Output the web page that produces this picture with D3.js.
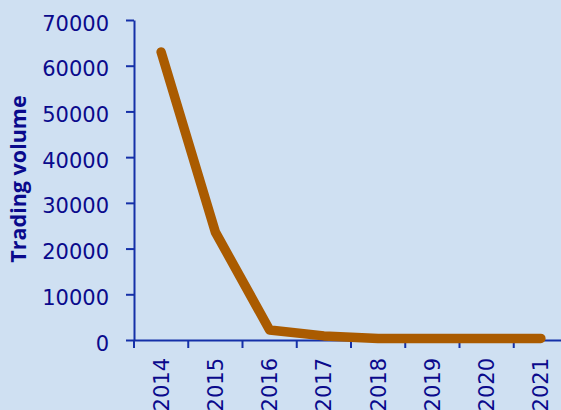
<!DOCTYPE html>
<html>
<head>
<meta charset="utf-8">
<script src="https://cdn.jsdelivr.net/npm/d3@7"></script>
<style>
  html, body { margin: 0; padding: 0; background: #cfe0f2; }
  svg { display: block; }
</style>
</head>
<body>
<svg id="chart" width="561" height="410"></svg>
<script>
// Yearly trading volume
const years = ["2014", "2015", "2016", "2017", "2018", "2019", "2020", "2021"];
const volumes = [63000, 23600, 2200, 900, 350, 350, 350, 350];
const yTicks = [0, 10000, 20000, 30000, 40000, 50000, 60000, 70000];
const yTitle = "Trading volume";

const width = 561, height = 410;
const axisColor = "#1530a8";
const textColor = "#0a0a8c";
const lineColor = "#aa5b00";

const svg = d3.select("#chart");
svg.append("rect").attr("width", width).attr("height", height).attr("fill", "#cfe0f2");

const plotLeft = 134, plotTop = 20, plotBottom = 340;
const step = 54.25;

const x = d3.scaleBand().domain(years).range([plotLeft, plotLeft + step * years.length]).padding(0);
const y = d3.scaleLinear().domain([0, 70000]).range([plotBottom, plotTop]);

// Y axis
const yAxis = svg.append("g")
  .attr("transform", `translate(${plotLeft},0)`)
  .call(d3.axisLeft(y).tickValues(yTicks).tickFormat(d3.format("d")).tickSize(8).tickSizeOuter(0).tickPadding(17));
yAxis.select(".domain").attr("stroke", axisColor).attr("stroke-width", 2);
yAxis.selectAll(".tick line").attr("stroke", axisColor).attr("stroke-width", 2);
yAxis.selectAll(".tick text")
  .attr("fill", textColor)
  .attr("font-family", "DejaVu Sans, Verdana, sans-serif")
  .attr("font-size", 21)
  .attr("dy", "0.48em");

// X axis: ticks sit on the band boundaries, labels in the band centres
const xAxis = svg.append("g")
  .attr("transform", `translate(0,${plotBottom})`)
  .call(d3.axisBottom(x).tickSize(8).tickSizeOuter(0).tickPadding(0));
xAxis.select(".domain").attr("stroke", axisColor).attr("stroke-width", 2)
  .attr("d", `M${plotLeft},0.5H${width + 20}`);
xAxis.selectAll(".tick line")
  .attr("stroke", axisColor).attr("stroke-width", 2)
  .attr("x1", -x.bandwidth() / 2).attr("x2", -x.bandwidth() / 2);
xAxis.selectAll(".tick text")
  .attr("fill", textColor)
  .attr("font-family", "DejaVu Sans, Verdana, sans-serif")
  .attr("font-size", 21)
  .attr("text-anchor", "end")
  .attr("transform", "rotate(-90)")
  .attr("x", -18)
  .attr("y", 0)
  .attr("dy", "0.36em");

// Y axis title
svg.append("text")
  .attr("transform", `translate(26,179) rotate(-90)`)
  .attr("text-anchor", "middle")
  .attr("fill", textColor)
  .attr("font-family", "Open Sans, sans-serif")
  .attr("font-weight", "bold")
  .attr("font-size", 21.5)
  .text(yTitle);

// Volume line
const line = d3.line()
  .x((d, i) => x(years[i]) + x.bandwidth() / 2)
  .y(d => y(d));

svg.append("path")
  .datum(volumes)
  .attr("fill", "none")
  .attr("stroke", lineColor)
  .attr("stroke-width", 9.5)
  .attr("stroke-linecap", "round")
  .attr("stroke-linejoin", "round")
  .attr("d", line);
</script>
</body>
</html>
